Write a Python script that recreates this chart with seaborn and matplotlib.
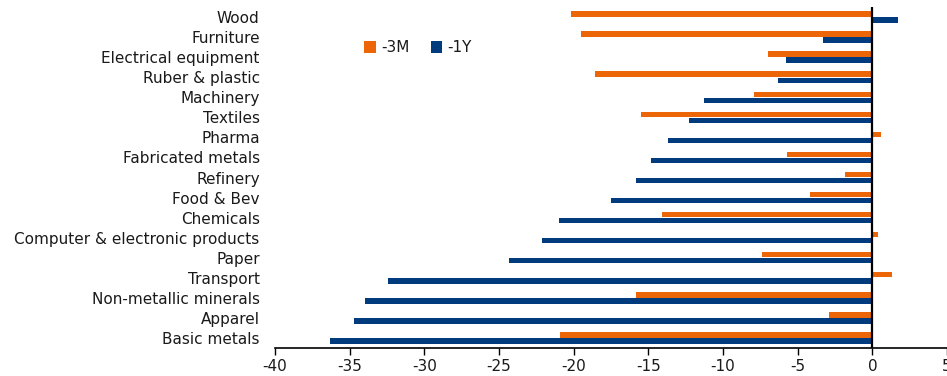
import matplotlib
matplotlib.use("Agg")
import matplotlib.pyplot as plt
import pandas as pd
import seaborn as sns

# Industries, top to bottom
categories = [
    "Wood", "Furniture", "Electrical equipment", "Ruber & plastic", "Machinery",
    "Textiles", "Pharma", "Fabricated metals", "Refinery", "Food & Bev",
    "Chemicals", "Computer & electronic products", "Paper", "Transport",
    "Non-metallic minerals", "Apparel", "Basic metals",
]
# Change over 3 months (%)
chg_3m = [-20.2, -19.5, -7.0, -18.6, -7.9, -15.5, 0.6, -5.7, -1.8, -4.2,
          -14.1, 0.4, -7.4, 1.3, -15.8, -2.9, -20.9]
# Change over 1 year (%)
chg_1y = [1.7, -3.3, -5.8, -6.3, -11.3, -12.3, -13.7, -14.8, -15.8, -17.5,
          -21.0, -22.1, -24.3, -32.4, -34.0, -34.7, -36.3]
series_names = ["-3M", "-1Y"]
x_ticks = [-40, -35, -30, -25, -20, -15, -10, -5, 0, 5]

df = pd.DataFrame({
    "industry": categories * 2,
    "value": chg_3m + chg_1y,
    "period": [series_names[0]] * len(categories) + [series_names[1]] * len(categories),
})

sns.set_theme(style="white")
plt.rcParams["font.family"] = ["DejaVu Sans"]
text_color = "#1a1a1a"
fs = 11

fig = plt.figure(figsize=(9.47, 3.76), dpi=100)
ax = fig.add_axes([275 / 947, 28 / 376, 672 / 947, 341 / 376])

sns.barplot(
    data=df, y="industry", x="value", hue="period",
    order=categories, hue_order=series_names,
    palette={"-3M": "#EC6608", "-1Y": "#003B7E"},
    width=0.6, gap=0.1, orient="h", ax=ax,
    edgecolor="none", saturation=1,
)

ax.set_xlim(-40, 5)
ax.set_ylim(len(categories) - 0.5, -0.5)
ax.set_xticks(x_ticks)
ax.set_xticklabels([str(t) for t in x_ticks])
ax.set_xlabel("")
ax.set_ylabel("")

ax.axvline(0, color="black", lw=1.6, zorder=5)

for side in ["left", "top", "right"]:
    ax.spines[side].set_visible(False)
ax.spines["bottom"].set_color("black")
ax.spines["bottom"].set_linewidth(1.2)

ax.tick_params(axis="x", direction="out", length=5, width=1, color="black",
               labelsize=fs, labelcolor=text_color, pad=3, bottom=True)
ax.tick_params(axis="y", length=0, labelsize=fs, labelcolor=text_color, pad=11)

leg = ax.legend(
    loc="center", bbox_to_anchor=(0.213, 0.88), ncol=2, frameon=False,
    handlelength=0.75, handleheight=0.75, handletextpad=0.35, columnspacing=1.4,
    fontsize=fs,
)
for t in leg.get_texts():
    t.set_color(text_color)

fig.savefig("out.png", dpi=100)
